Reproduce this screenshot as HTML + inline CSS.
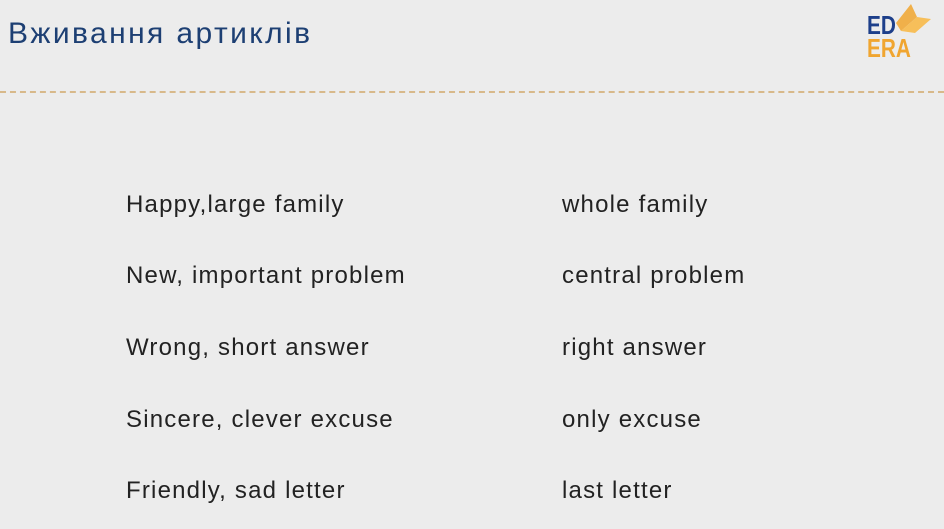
<!DOCTYPE html>
<html><head><meta charset="utf-8"><style>
body{margin:0;width:944px;height:529px;background:#ececec;overflow:hidden;position:relative;font-family:"Liberation Sans",sans-serif}
.t{position:absolute;left:8px;top:17px;font-size:30px;color:#1d3f73;letter-spacing:2.4px}
.dash{position:absolute;left:0;top:91px;width:944px;border-top:2px dashed #d8b98a}
.r{position:absolute;font-size:24px;color:#222;white-space:nowrap;letter-spacing:1.2px}
.l{left:126px}.k{left:562px}
.logo{position:absolute;font-weight:bold;font-size:26px;line-height:22px;transform:scaleX(0.8);transform-origin:left}
</style></head><body>
<div class="t">Вживання артиклів</div>
<div class="logo" style="left:867px;top:14px;color:#1d3f8a">ED</div>
<div class="logo" style="left:867px;top:37px;color:#f0a530">ERA</div>
<svg style="position:absolute;left:893px;top:3px" width="42" height="32"><polygon points="18,1 24,14 8,28 3,20" fill="#f0b04a"/><polygon points="24,14 38,16 22,30 8,28" fill="#f7bf5a"/></svg>
<div class="dash"></div>
<div class="r l" style="top:191px">Happy,large family</div><div class="r k" style="top:191px">whole family</div>
<div class="r l" style="top:262px">New, important problem</div><div class="r k" style="top:262px">central problem</div>
<div class="r l" style="top:334px">Wrong, short answer</div><div class="r k" style="top:334px">right answer</div>
<div class="r l" style="top:406px">Sincere, clever excuse</div><div class="r k" style="top:406px">only excuse</div>
<div class="r l" style="top:477px">Friendly, sad letter</div><div class="r k" style="top:477px">last letter</div>
</body></html>
